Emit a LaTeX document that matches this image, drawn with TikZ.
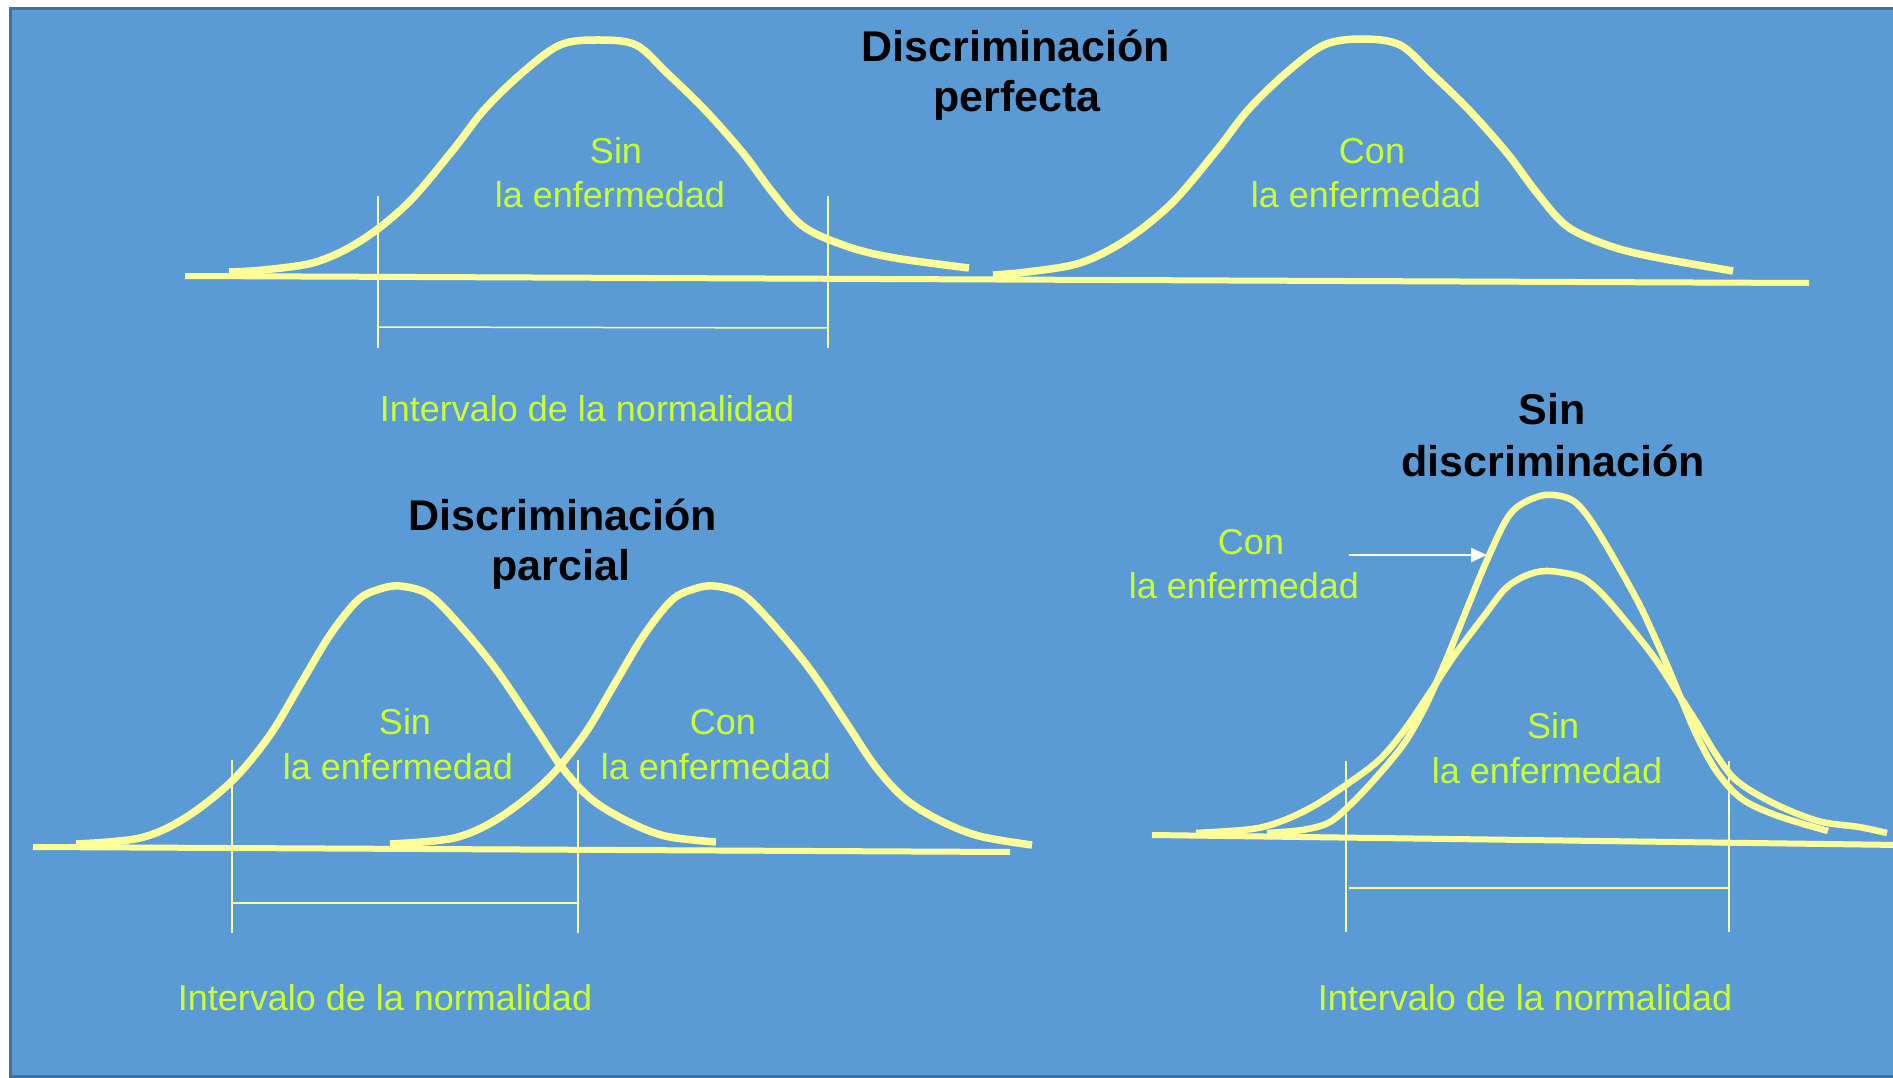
\documentclass[tikz,border=0pt]{standalone}
\usepackage{fontspec}
\setmainfont{Liberation Sans}
\usetikzlibrary{arrows.meta}
\definecolor{bgblue}{HTML}{5B9BD5}
\definecolor{bgborder}{HTML}{41719C}
\definecolor{curveyel}{HTML}{FFFF99}
\definecolor{lblgreen}{HTML}{CCFF33}
\tikzset{
  curve/.style={draw=curveyel, line width=7.5pt, line join=round},
  axisline/.style={draw=curveyel, line width=6pt},
  interval/.style={draw=curveyel, line width=1.5pt},
  lbl/.style={text=lblgreen, anchor=base, inner sep=0pt, font=\fontsize{36}{43}\selectfont},
  ttl/.style={text=black, anchor=base, inner sep=0pt, font=\fontsize{43}{50}\selectfont\bfseries},
  whitearrow/.style={draw=white, line width=2.5pt, -{Triangle[length=16pt,width=14pt]}}
}
\begin{document}
\begin{tikzpicture}[x=1pt,y=-1pt]
\useasboundingbox (0,0) rectangle (1893,1078);
\clip (0,0) rectangle (1893,1078);
% background panel
\fill[white] (0,0) rectangle (1893,1078);
\filldraw[fill=bgblue, draw=bgborder, line width=3pt] (10.5,8.5) rectangle (1900,1076.5);

% ---------------- Panel 1: Discriminación perfecta ----------------
\draw[axisline] (185,276) -- (1809,283);
\draw[curve, xshift=-764pt] plot[smooth, tension=0.55] coordinates {
 (993,272) (1027,270) (1080,262) (1126,240) (1172,203) (1217,150) (1248,110)
 (1286,73) (1324,45) (1362,40) (1400,45) (1431,73) (1469,110) (1507,153)
 (1537,193) (1568,227) (1613,247) (1659,258) (1733,268)};
\draw[curve] plot[smooth, tension=0.55] coordinates {
 (993,275) (1027,272) (1080,263) (1126,240) (1172,203) (1217,150) (1248,110)
 (1286,73) (1324,45) (1362,39) (1400,45) (1431,73) (1469,110) (1507,153)
 (1537,193) (1568,227) (1613,247) (1659,258) (1733,271)};
\draw[interval] (378,196) -- (378,348);
\draw[interval] (828,196) -- (828,348);
\draw[interval] (378,327) -- (828,328);
\node[lbl] (p1sinA) at (616,164) {Sin};
\node[lbl] (p1sinB) at (610,208) {la enfermedad};
\node[lbl] (p1conA) at (1372,164) {Con};
\node[lbl] (p1conB) at (1366,208) {la enfermedad};
\node[lbl] (p1int) at (587,421) {Intervalo de la normalidad};
\node[ttl] (p1tA) at (1016,62) {Discriminación};
\node[ttl] (p1tB) at (1017,112) {perfecta};

% ---------------- Panel 2: Discriminación parcial ----------------
\draw[axisline] (33,847) -- (1010,852);
\draw[curve] plot[smooth, tension=0.55] coordinates {
 (76,844) (140,838) (185,818) (232,781) (270,735) (300,685) (330,635)
 (358,600) (380,589) (400,586) (428,594) (456,621) (495,668) (533,724)
 (561,766) (590,798) (625,820) (665,836) (716,842)};
\draw[curve, xshift=314pt] plot[smooth, tension=0.55] coordinates {
 (76,844) (140,838) (185,818) (232,781) (270,735) (300,685) (330,635)
 (358,600) (380,589) (400,586) (428,594) (456,621) (495,668) (533,724)
 (561,766) (590,798) (625,820) (665,836) (718,845)};
\draw[interval] (232,760) -- (232,933);
\draw[interval] (578,760) -- (578,933);
\draw[interval] (232,903) -- (578,903);
\node[lbl] (p2sinA) at (405,734) {Sin};
\node[lbl] (p2sinB) at (398,779) {la enfermedad};
\node[lbl] (p2conA) at (723,734) {Con};
\node[lbl] (p2conB) at (716,779) {la enfermedad};
\node[lbl] (p2int) at (385,1010) {Intervalo de la normalidad};
\node[ttl] (p2tA) at (563,530) {Discriminación};
\node[ttl] (p2tB) at (561,580) {parcial};

% ---------------- Panel 3: Sin discriminación ----------------
\draw[axisline] (1152,835) -- (1900,845);
\draw[curve, line width=6.5pt] plot[smooth, tension=0.55] coordinates {
 (1196,833) (1252,829) (1282,821) (1312,807) (1343,787) (1378,761) (1403,732)
 (1429,694) (1454,656) (1484,616) (1505,589) (1525,576) (1545,571) (1570,574)
 (1586,580) (1606,598) (1636,634) (1656,660) (1677,692) (1697,723) (1717,756)
 (1737,781) (1773,803) (1818,821) (1859,827) (1887,833)};
\draw[curve, line width=6.5pt] plot[smooth, tension=0.55] coordinates {
 (1267,833) (1302,830) (1328,823) (1348,807) (1373,781) (1403,745) (1424,709)
 (1444,665) (1464,616) (1484,567) (1505,522) (1520,505) (1545,495) (1570,499)
 (1586,514) (1606,545) (1636,598) (1651,629) (1667,665) (1682,701) (1697,736)
 (1717,772) (1742,799) (1778,816) (1828,831)};
\draw[interval] (1346,761) -- (1346,932);
\draw[interval] (1729,761) -- (1729,932);
\draw[interval] (1349,888) -- (1729,888);
\coordinate (arrS) at (1349,555);
\coordinate (arrE) at (1487,555);
\draw[whitearrow] (arrS) -- (arrE);
\node[lbl] (p3conA) at (1251,554) {Con};
\node[lbl] (p3conB) at (1244,598) {la enfermedad};
\node[lbl] (p3sinA) at (1553,738) {Sin};
\node[lbl] (p3sinB) at (1547,783) {la enfermedad};
\node[lbl] (p3int) at (1525,1010) {Intervalo de la normalidad};
\node[ttl] (p3tA) at (1552,424) {Sin};
\node[ttl] (p3tB) at (1553,476) {discriminación};
\end{tikzpicture}
\end{document}
